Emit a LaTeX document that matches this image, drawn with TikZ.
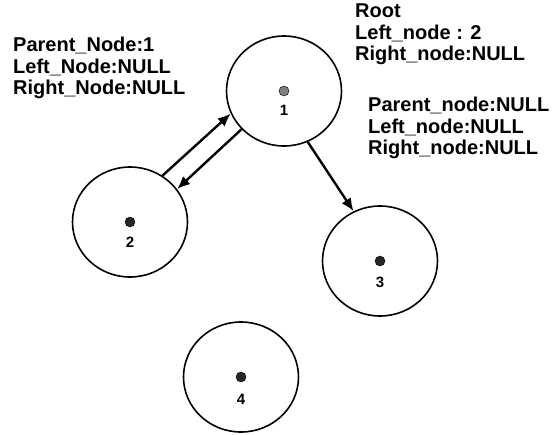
\documentclass[tikz,border=0pt]{standalone}
\usepackage{fontspec}
\setmainfont{Liberation Sans}
\usetikzlibrary{arrows.meta, shapes.geometric}

\begin{document}
\begin{tikzpicture}[x=1pt, y=-1pt,
  treenode/.style={draw, ellipse, line width=1.6pt, minimum width=115pt,
    minimum height=110pt, inner sep=0pt},
  centerdot/.style={circle, draw, fill=black!85, minimum size=10pt, inner sep=0pt},
  nlabel/.style={font=\fontsize{15}{17}\selectfont\bfseries},
  info/.style={font=\fontsize{20}{21.5}\selectfont\bfseries, align=left,
    anchor=north west, inner sep=0pt},
  link/.style={-{Latex[length=13pt, width=11pt]}, line width=2.4pt},
]
\useasboundingbox (0,0) rectangle (553,434);

% Node 1: root
\node[treenode] (n1) at (284,91) {};
\node[centerdot, fill=black!50] (d1) at (n1.center) {};
\node[nlabel] (l1) at (284,110) {1};

% Node 2
\node[treenode] (n2) at (130,222) {};
\node[centerdot] (d2) at (n2.center) {};
\node[nlabel] (l2) at (130,242) {2};

% Node 3
\node[treenode] (n3) at (380,261) {};
\node[centerdot] (d3) at (n3.center) {};
\node[nlabel] (l3) at (380,282) {3};

% Node 4
\node[treenode] (n4) at (241,377) {};
\node[centerdot] (d4) at (n4.center) {};
\node[nlabel] (l4) at (241,399) {4};

% Info texts
\node[info] (leftinfo) at (13,37) {%
  Parent\_Node:1\\
  Left\_Node:NULL\\
  Right\_Node:NULL};
\node[info] (rootinfo) at (355,4) {%
  Root\\
  Left\_node : 2\\
  Right\_node:NULL};
\node[info] (rightinfo) at (368,97) {%
  Parent\_node:NULL\\
  Left\_node:NULL\\
  Right\_node:NULL};

% Links
\draw[link] (n2.55) -- (n1.203);
\draw[link] (n1.222) -- (n2.35);
\draw[link] (n1.295) -- (n3.118);
\end{tikzpicture}
\end{document}
